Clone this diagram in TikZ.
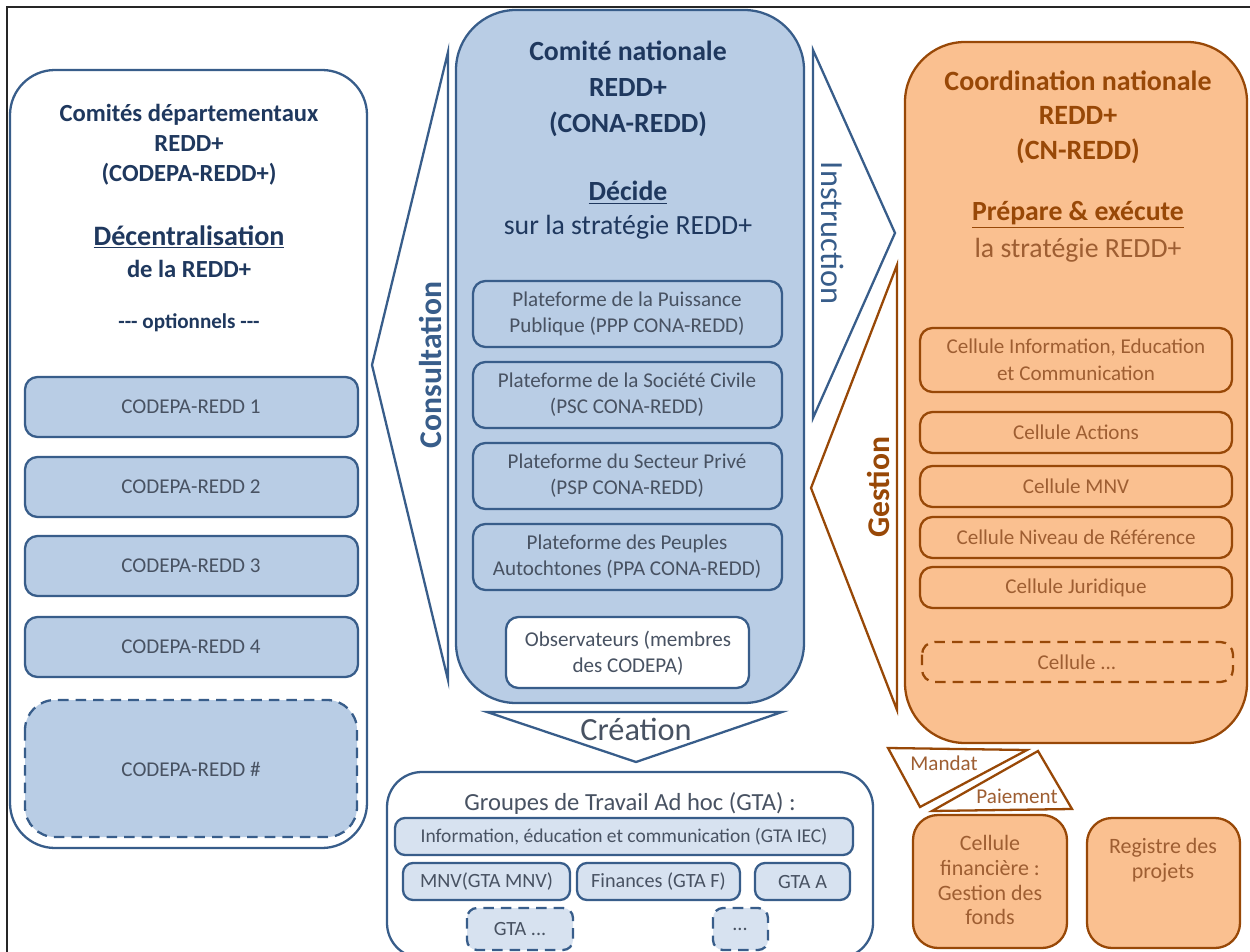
\documentclass[tikz,border=0pt]{standalone}
\usepackage{fontspec}
\setmainfont{Carlito}
\definecolor{bluedk}{RGB}{56,93,138}
\definecolor{bluefill}{RGB}{185,205,229}
\definecolor{bluelt}{RGB}{215,226,240}
\definecolor{navytxt}{RGB}{31,56,94}
\definecolor{greytxt}{RGB}{72,82,98}
\definecolor{orfill}{RGB}{250,192,144}
\definecolor{ordk}{RGB}{152,72,7}
\definecolor{ortxt}{RGB}{158,94,50}

\begin{document}
\begin{tikzpicture}[x=0.02cm,y=-0.02cm,
    blueline/.style={draw=bluedk,line width=1.3pt},
    orline/.style={draw=ordk,line width=1.3pt},
    bluebox/.style={blueline,fill=bluefill,rounded corners=2.5mm},
    orbox/.style={orline,fill=orfill,rounded corners=2.5mm},
    dashbox/.style={dash pattern=on 6pt off 4pt},
    body/.style={font=\fontsize{12}{14.7}\selectfont,align=center},
    bigtitle/.style={font=\fontsize{15.8}{20.6}\selectfont\bfseries,align=center},
    flow/.style={font=\fontsize{18.4}{20}\selectfont}]
    \useasboundingbox (0,0) rectangle (1250,952);
    \draw[line width=0.8pt,black!85] (1250,7) -- (7,7) -- (7,952);
    % departements
    \draw[blueline,fill=white,rounded corners=9mm] (10,70) rectangle (367,848);
    \node[text=navytxt,font=\fontsize{14}{17}\selectfont\bfseries,align=center] (codepa) at (189,145)
      {Comités départementaux\\REDD+\\(CODEPA-REDD+)};
    \node[text=navytxt,font=\fontsize{16}{18}\selectfont\bfseries] (decentr) at (189,237) {\underline{Décentralisation}};
    \node[text=navytxt,font=\fontsize{14}{17}\selectfont\bfseries] (delaredd) at (189,269) {de la REDD+};
    \node[text=navytxt,font=\fontsize{12}{14}\selectfont\bfseries] (option) at (189,323) {-{}-{}- optionnels -{}-{}-};
    \foreach \n/\y in {1/377,2/457,3/536,4/617}{
      \draw[bluebox] (25,\y) rectangle (358,\y+60);
      \node[body,text=greytxt] (cod\n) at (191,\y+30) {CODEPA-REDD \n};
    }
    \draw[bluebox,dashbox,rounded corners=6mm] (25,700) rectangle (357,837);
    \node[body,text=greytxt] (codx) at (191,769) {CODEPA-REDD \#};
    % consultation
    \draw[blueline,fill=white] (448,52) -- (372,365) -- (448,680) -- cycle;
    \node[flow,rotate=90,text=bluedk,font=\fontsize{18}{20}\selectfont\bfseries] (consult) at (430,365) {Consultation};
    % comite national
    \draw[blueline,fill=bluefill,rounded corners=12mm] (456,10) rectangle (804,703);
    \node[bigtitle,text=navytxt] (cona) at (628,89) {Comité nationale\\REDD+\\(CONA-REDD)};
    \node[bigtitle,text=navytxt] (decide) at (628,193) {\underline{Décide}};
    \node[text=navytxt,font=\fontsize{15.8}{19}\selectfont] (surla) at (628,227) {sur la stratégie REDD+};
    \foreach \nm/\y/\txt in {ppp/281/{Plateforme de la Puissance\\Publique (PPP CONA-REDD)},
        psc/362/{Plateforme de la Société Civile\\(PSC CONA-REDD)},
        psp/443/{Plateforme du Secteur Privé\\(PSP CONA-REDD)},
        ppa/524/{Plateforme des Peuples\\Autochtones (PPA CONA-REDD)}}{
      \draw[bluebox] (473,\y) rectangle (782,\y+66);
      \node[body,text=greytxt] (\nm) at (627,\y+33) {\txt};
    }
    \draw[blueline,fill=white,rounded corners=2.5mm] (506,617) rectangle (749,688);
    \node[body,text=greytxt] (obs) at (628,653) {Observateurs (membres\\des CODEPA)};
    % creation
    \draw[blueline,fill=white] (487,712) -- (782,712) -- (636,762) -- cycle;
    \node[flow,text=greytxt] (creation) at (636,729) {Création};
    \draw[blueline,fill=white,rounded corners=7mm] (387,772) rectangle (873,958);
    \node[text=greytxt,font=\fontsize{14}{16}\selectfont] (gta) at (630,803) {Groupes de Travail Ad hoc (GTA) :};
    \draw[bluebox,fill=bluelt,rounded corners=2mm] (395,818) rectangle (853,855);
    \node[text=greytxt,font=\fontsize{11.1}{13}\selectfont] (gtaiec) at (624,837)
      {Information, éducation et communication (GTA IEC)};
    \foreach \nm/\xa/\xb/\txt in {gtamnv/403/570/{MNV(GTA MNV)},gtaf/577/740/{Finances (GTA F)},gtaa/755/850/{GTA A}}{
      \draw[bluebox,fill=bluelt,rounded corners=2mm] (\xa,863) rectangle (\xb,900);
      \node[text=greytxt,font=\fontsize{11.5}{13}\selectfont] (\nm) at ({(\xa+\xb)/2},882) {\txt};
    }
    \draw[bluebox,fill=bluelt,dashbox,rounded corners=2mm] (467,908) rectangle (573,950);
    \node[text=greytxt,font=\fontsize{11.5}{13}\selectfont] (gtax) at (520,929) {GTA ...};
    \draw[bluebox,fill=bluelt,dashbox,rounded corners=2mm] (713,908) rectangle (768,950);
    \node[text=greytxt,font=\fontsize{11.5}{13}\selectfont] (gtadots) at (740,929) {...};
    % instruction
    \draw[blueline,fill=white] (813,50) -- (895,233) -- (813,418) -- cycle;
    \node[flow,rotate=-90,text=bluedk] (instr) at (833,233) {Instruction};
    % coordination nationale
    \draw[orline,fill=orfill,rounded corners=12mm] (905,42) rectangle (1247,743);
    \node[bigtitle,text=ordk,font=\fontsize{15.9}{19.6}\selectfont\bfseries] (cn) at (1078,117)
      {Coordination nationale\\REDD+\\(CN-REDD)};
    \node[bigtitle,text=ordk] (prepare) at (1078,215) {\underline{Prépare \& exécute}};
    \node[text=ortxt,font=\fontsize{15.8}{19}\selectfont] (lastrat) at (1078,250) {la stratégie REDD+};
    \draw[orbox] (920,328) rectangle (1232,392);
    \node[body,text=ortxt,font=\fontsize{12}{15.3}\selectfont] (celiec) at (1076,360)
      {Cellule Information, Education\\et Communication};
    \foreach \nm/\y/\txt in {celact/412/{Cellule Actions},celmnv/466/{Cellule MNV},
        celniv/517/{Cellule Niveau de Référence},celjur/567/{Cellule Juridique}}{
      \draw[orbox] (920,\y) rectangle (1232,\y+41);
      \node[body,text=ortxt] (\nm) at (1076,\y+20.5) {\txt};
    }
    \draw[orbox,dashbox] (922,642) rectangle (1233,682);
    \node[body,text=ortxt] (celx) at (1077,662) {Cellule ...};
    % gestion
    \draw[orline,fill=white] (897,265) -- (811,488) -- (897,710) -- cycle;
    \node[flow,rotate=90,text=ordk,font=\fontsize{18}{20}\selectfont\bfseries] (gestion) at (878,487) {Gestion};
    % mandat, paiement
    \draw[orline,fill=white] (888,748) -- (1027,750) -- (920,807) -- cycle;
    \node[body,text=ortxt] (mandat) at (944,763) {Mandat};
    \draw[orline,fill=white] (1038,751) -- (1072,809) -- (932,811) -- cycle;
    \node[body,text=ortxt] (paiement) at (1017,796) {Paiement};
    \draw[orbox,rounded corners=5mm] (913,815) rectangle (1067,948);
    \node[text=ortxt,font=\fontsize{12.5}{14.2}\selectfont,align=center] (celfin) at (990,880)
      {Cellule\\financière :\\Gestion des\\fonds};
    \draw[orbox,rounded corners=5mm] (1087,818) rectangle (1240,948);
    \node[text=ortxt,font=\fontsize{12.5}{14.2}\selectfont,align=center] (registre) at (1163,860)
      {Registre des\\projets};
\end{tikzpicture}
\end{document}
